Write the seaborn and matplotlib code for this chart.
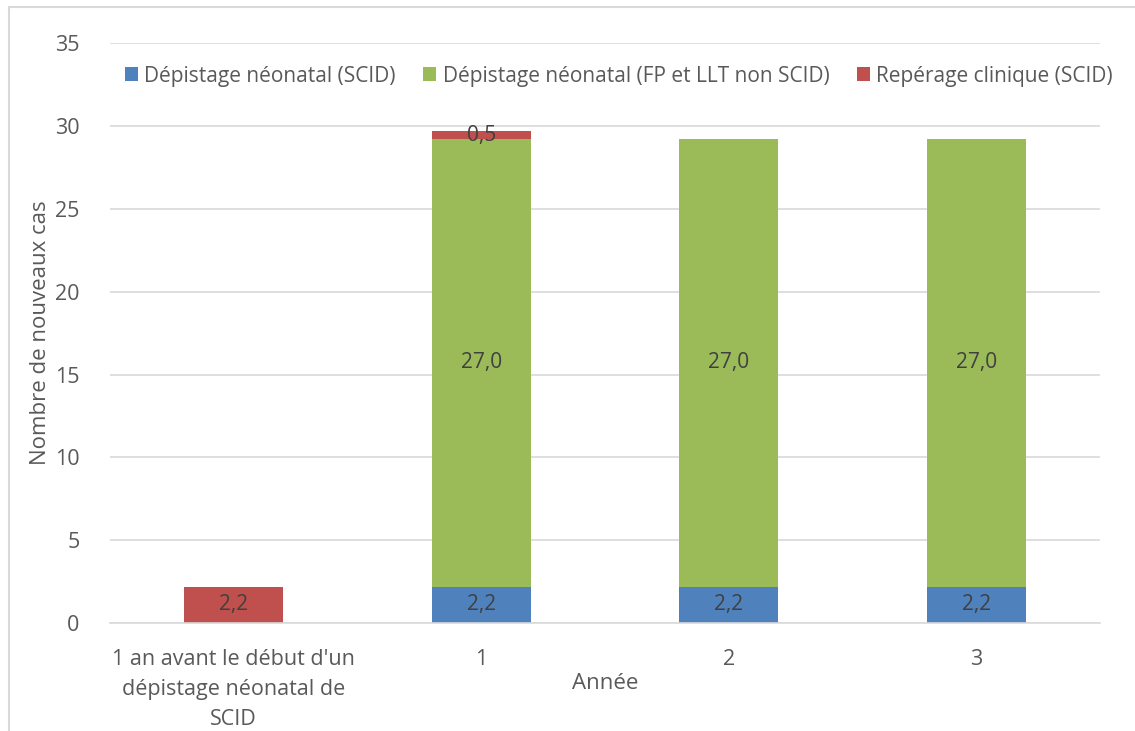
import numpy as np
import pandas as pd
import seaborn as sns
import matplotlib.pyplot as plt
from matplotlib.lines import Line2D
from matplotlib.patches import Patch

categories = ["1 an avant le début d'un\ndépistage néonatal de\nSCID", "1", "2", "3"]
series = ["Dépistage néonatal (SCID)", "Dépistage néonatal (FP et LLT non SCID)", "Repérage clinique (SCID)"]
depistage_scid = [0.0, 2.2, 2.2, 2.2]
depistage_fp = [0.0, 27.0, 27.0, 27.0]
reperage_clinique = [2.2, 0.5, 0.0, 0.0]
colors = ["#4F81BD", "#9BBB59", "#C0504D"]

sns.set_style("white")
plt.rcParams["font.family"] = ["Open Sans", "DejaVu Sans"]
text_color = "#595959"

values = np.array([depistage_scid, depistage_fp, reperage_clinique])
cum = values.cumsum(axis=0)

fig = plt.figure(figsize=(11.35, 7.31), dpi=100)
ax = fig.add_axes([0.0969, 0.1477, 0.8721, 0.7933])

# stacked bars: draw cumulative totals from the top layer down
for i in reversed(range(len(series))):
    d = pd.DataFrame({"cat": categories, "val": cum[i]})
    sns.barplot(data=d, x="cat", y="val", order=categories, color=colors[i],
                saturation=1, width=0.4, ax=ax, edgecolor="none")

for i in range(len(series)):
    for j in range(len(categories)):
        v = values[i, j]
        if v > 0:
            ax.text(j, cum[i, j] - v / 2, f"{v:.1f}".replace(".", ","),
                    ha="center", va="center", fontsize=15, color="#404040")

ax.set_xlim(-0.5, 3.5)
ax.set_ylim(0, 35)
ax.set_yticks(range(0, 36, 5))
ax.yaxis.grid(True, color="#D9D9D9", linewidth=1.2)
ax.set_axisbelow(True)
for s in ["top", "right", "left"]:
    ax.spines[s].set_visible(False)
ax.spines["bottom"].set_color("#D9D9D9")
ax.spines["bottom"].set_linewidth(1.2)
ax.tick_params(axis="both", length=0, labelsize=15.5, labelcolor=text_color)
ax.tick_params(axis="y", pad=22)
ax.tick_params(axis="x", pad=19)
for lbl in ax.get_xticklabels():
    lbl.set_linespacing(1.55)

ax.set_xlabel("Année", fontsize=16, color=text_color)
ax.xaxis.set_label_coords(0.5, -0.105)
ax.xaxis.label.set_va("center")
ax.set_ylabel("Nombre de nouveaux cas", fontsize=16, color=text_color)
ax.yaxis.set_label_coords(-0.0707, 0.5)
ax.yaxis.label.set_va("center")

handles = [Patch(facecolor=c, edgecolor="none") for c in colors]
ax.legend(handles, series, loc="center", bbox_to_anchor=(0.514, 0.943), ncol=3,
          frameon=False, fontsize=15, labelcolor=text_color,
          handlelength=0.65, handleheight=0.65, handletextpad=0.3, columnspacing=1.3)

# chart area border (left and top edges visible in the crop)
fig.add_artist(Line2D([9 / 1135, 9 / 1135], [0, 1 - 7 / 731], transform=fig.transFigure,
                      color="#D9D9D9", linewidth=1.5))
fig.add_artist(Line2D([9 / 1135, 1], [1 - 7 / 731, 1 - 7 / 731], transform=fig.transFigure,
                      color="#D9D9D9", linewidth=1.5))

fig.savefig("out.png", dpi=100)
